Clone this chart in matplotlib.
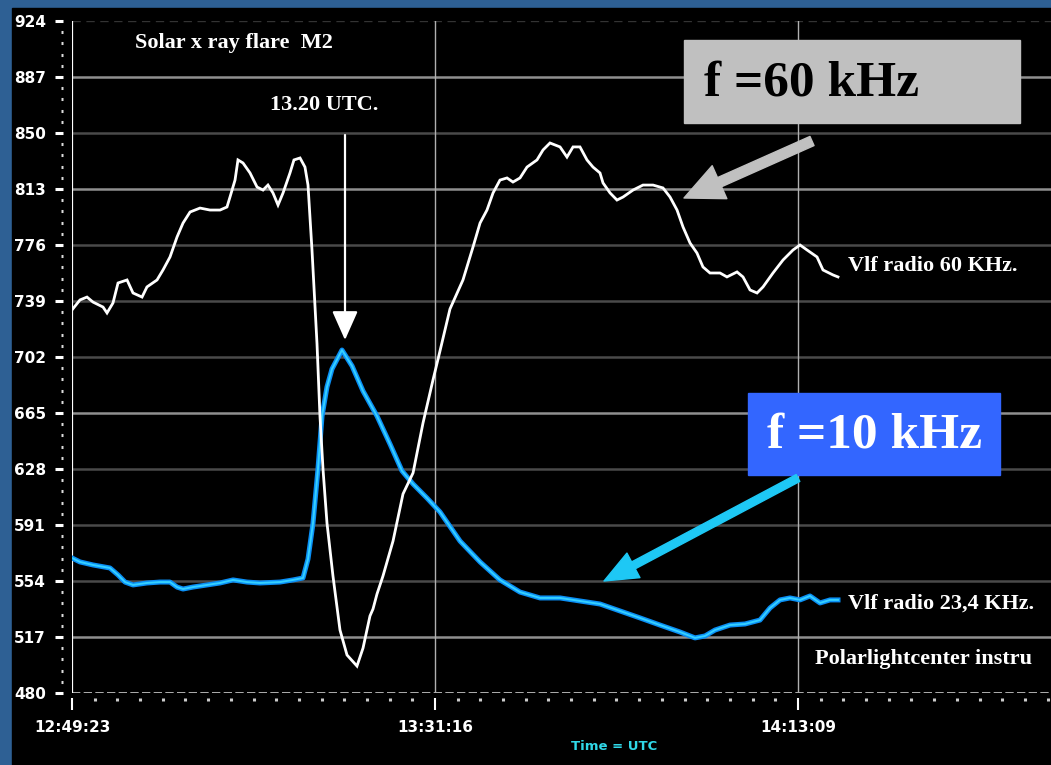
import matplotlib
matplotlib.use("Agg")
import matplotlib.pyplot as plt
import matplotlib.patches as mpatches
from matplotlib.ticker import FixedLocator
import numpy as np

# ---------------- data (minutes after 12:49:23, receiver level) ----------------
t60 = [0.0, 0.92, 1.73, 2.42, 3.58, 4.04, 4.73, 5.31, 6.35, 7.04, 8.08, 8.65, 9.81, 10.50,
       11.31, 12.12, 12.81, 13.62, 14.77, 15.92, 17.08, 17.88, 18.23, 18.81, 19.15, 19.73,
       20.54, 21.35, 22.04, 22.61, 23.19, 23.77, 24.35, 25.15, 25.61, 26.31, 26.88, 27.23,
       27.69, 28.27, 28.61, 28.96, 29.42, 30.11, 30.92, 31.73, 32.88, 33.58, 34.38, 34.73,
       35.19, 35.88, 37.04, 38.19, 39.35, 40.50, 41.65, 42.46, 43.61, 45.11, 46.27, 47.08,
       47.88, 48.58, 49.38, 50.19, 50.88, 51.69, 52.50, 53.65, 54.35, 55.15, 56.31, 57.11,
       57.81, 58.61, 59.42, 60.11, 60.92, 61.27, 62.08, 62.88, 63.58, 64.73, 65.88, 67.04,
       68.19, 69.00, 69.81, 70.50, 71.31, 72.11, 72.80, 73.61, 74.77, 75.57, 76.73, 77.42,
       78.23, 79.04, 79.73, 80.88, 82.04, 83.19, 84.00, 84.81, 85.96, 86.65, 87.81, 88.38]
v60 = [733.1, 739.7, 741.6, 738.3, 735.0, 731.1, 737.7, 750.9, 752.9, 744.3, 741.6, 748.3,
       752.9, 759.5, 768.1, 781.3, 790.5, 797.8, 800.4, 799.1, 799.1, 801.1, 807.7, 818.9,
       832.2, 830.2, 823.6, 814.3, 812.3, 815.6, 810.4, 802.4, 810.4, 823.6, 832.2, 833.5,
       827.5, 815.6, 772.7, 710.6, 663.0, 628.0, 592.3, 557.3, 521.6, 505.1, 497.8, 509.7,
       530.9, 535.5, 545.4, 557.3, 580.4, 611.5, 625.4, 658.4, 686.8, 706.0, 733.7, 752.9,
       774.7, 790.5, 799.1, 810.4, 818.9, 820.3, 817.6, 820.3, 827.5, 832.2, 838.8, 843.4,
       840.8, 834.1, 840.8, 840.8, 832.2, 827.5, 823.6, 817.0, 810.4, 805.7, 807.7, 812.3,
       815.6, 815.6, 813.7, 807.7, 799.1, 787.9, 777.3, 770.7, 761.5, 757.5, 757.5, 754.9,
       758.2, 754.9, 746.3, 744.3, 748.3, 757.5, 766.1, 772.7, 776.0, 772.7, 768.1, 759.5,
       756.2, 754.9]

t23 = [0.0, 0.92, 2.42, 4.38, 5.31, 6.12, 7.04, 8.65, 10.15, 11.31, 12.12, 12.81, 13.96,
       15.58, 17.08, 18.58, 20.19, 21.69, 24.00, 25.50, 26.65, 27.23, 27.81, 28.38, 28.85,
       29.42, 30.00, 31.15, 32.31, 33.58, 35.19, 36.69, 38.08, 39.35, 40.96, 42.46, 44.77,
       47.08, 49.38, 51.69, 54.00, 56.31, 58.61, 60.92, 63.23, 65.54, 67.84, 70.15, 71.88,
       73.04, 74.19, 75.92, 77.65, 79.38, 80.54, 81.69, 82.84, 84.00, 85.15, 86.31, 87.46,
       88.38]
v23 = [569.2, 566.6, 564.6, 562.6, 558.0, 553.3, 551.4, 552.7, 553.3, 553.3, 550.0, 548.7,
       550.0, 551.4, 552.7, 554.7, 553.3, 552.7, 553.3, 554.7, 556.0, 568.5, 592.3, 628.0,
       663.0, 682.2, 694.1, 706.6, 696.1, 679.5, 663.0, 644.5, 626.7, 618.1, 608.8, 599.6,
       580.4, 566.6, 554.7, 546.7, 542.8, 542.8, 540.8, 538.8, 534.2, 529.6, 524.9, 520.3,
       516.4, 517.7, 521.6, 524.9, 525.6, 528.2, 536.2, 541.5, 542.8, 541.5, 544.1, 539.5,
       541.5, 541.5]

y_ticks = [480, 517, 554, 591, 628, 665, 702, 739, 776, 813, 850, 887, 924]
x_ticks = [0.0, 41.883, 83.767]
x_labels = ["12:49:23", "13:31:16", "14:13:09"]

W, H = 1051, 765
def fx(px): return px / W
def fy(py): return 1 - py / H

fig = plt.figure(figsize=(W / 100, H / 100), dpi=100)
fig.patch.set_facecolor("#2e6094")
fig.patches.append(mpatches.Rectangle((fx(12), 0), 1 - fx(12), 1 - 8 / H,
                                      transform=fig.transFigure, color="black", zorder=-5))

ax = fig.add_axes([fx(72), 72 / H, (W - 72) / W, 672 / H])
ax.set_zorder(1)
ax.set_facecolor("none")
ax.set_xlim(0, (W - 72) * 41.883 / 363)
ax.set_ylim(480, 924)

# grid
bright = {887, 813, 665, 517}
for v in y_ticks[1:-1]:
    ax.axhline(v, color="#8f8f8f" if v in bright else "#4a4a4a", lw=1.8, zorder=1)
ax.axhline(924, color="#333333", lw=1.0, ls=(0, (6, 4)), zorder=1)
ax.axhline(480, color="#cccccc", lw=1.2, ls=(0, (5, 2)), zorder=1)
for xv in x_ticks[1:]:
    ax.axvline(xv, color="#b0b0b0", lw=1.0, zorder=1)
ax.axvline(0, color="white", lw=1.6, zorder=2)

for s in ax.spines.values():
    s.set_visible(False)
ax.spines["left"].set_position(("outward", 6.5))
ax.spines["bottom"].set_position(("outward", 3.6))

tickfont = dict(family=["Liberation Sans Narrow", "DejaVu Sans"], fontweight="bold")
ax.set_yticks(y_ticks)
ax.set_yticklabels([str(v) for v in y_ticks], color="white", fontsize=11, **tickfont)
ax.yaxis.set_minor_locator(FixedLocator(np.arange(480, 925, 7.4)))
ax.tick_params(axis="y", which="major", direction="out", length=5.8, width=2.2,
               color="white", pad=6.5)
ax.tick_params(axis="y", which="minor", direction="out", length=1.8, width=2.2,
               color="#dddddd")
ax.set_xticks(x_ticks)
ax.set_xticklabels(x_labels, color="white", fontsize=11, **tickfont)
ax.xaxis.set_minor_locator(FixedLocator(np.arange(0, 113, 41.883 / 16)))
ax.tick_params(axis="x", which="major", direction="out", length=8.5, width=1.5,
               color="white", pad=7)
ax.tick_params(axis="x", which="minor", direction="out", length=2.5, width=2.2,
               color="#cccccc")

# curves
ax.plot(t60, v60, color="white", lw=2.0, zorder=4, solid_joinstyle="miter")
ax.plot(t23, v23, color="#0a8ff5", lw=3.6, zorder=3)
ax.plot(t23, v23, color="#35d0ff", lw=1.4, zorder=3)

# annotation texts
serif = ["Liberation Serif", "DejaVu Serif"]
lbl = dict(color="white", fontsize=16, fontweight="bold", family=serif, va="center", ha="left")
fig.text(fx(135), fy(43), "Solar x ray flare  M2", **lbl)
fig.text(fx(270), fy(105), "13.20 UTC.", **lbl)
fig.text(fx(848), fy(266), "Vlf radio 60 KHz.", **lbl)
fig.text(fx(848), fy(604), "Vlf radio 23,4 KHz.", **lbl)
fig.text(fx(815), fy(659), "Polarlightcenter instru", **lbl)
fig.text(fx(614), fy(747), "Time = UTC", color="#30d8e8", fontsize=9.5, fontweight="bold",
         family=["Liberation Sans Narrow", "DejaVu Sans"], va="center", ha="center")

# 13.20 UTC arrow
fig.patches.append(mpatches.FancyArrowPatch((fx(345), fy(135)), (fx(345), fy(340)),
                   transform=fig.transFigure, arrowstyle="-|>,head_length=0.9,head_width=0.4",
                   mutation_scale=20, color="white", lw=1.6, shrinkA=0, shrinkB=0, zorder=5))

# grey label box + arrow
fig.patches.append(mpatches.Rectangle((fx(684), fy(123)), (1020 - 684) / W, (123 - 40) / H,
                   transform=fig.transFigure, color="#c0c0c0", zorder=5))
fig.text(fx(704), fy(83), "f =60 kHz", color="black", fontsize=37, fontweight="bold",
         family=serif, va="center", ha="left", zorder=6)
fig.patches.append(mpatches.FancyArrowPatch((fx(812), fy(141)), (fx(684), fy(198)),
                   transform=fig.transFigure,
                   arrowstyle="simple,head_length=1.4,head_width=1.3,tail_width=0.36",
                   mutation_scale=20, color="#c0c0c0", shrinkA=0, shrinkB=0, zorder=5))

# blue label box + arrow
fig.patches.append(mpatches.Rectangle((fx(748), fy(475)), (1000 - 748) / W, (475 - 393) / H,
                   transform=fig.transFigure, color="#3366ff", zorder=5))
fig.text(fx(767), fy(436), "f =10 kHz", color="white", fontsize=37, fontweight="bold",
         family=serif, va="center", ha="left", zorder=6)
fig.patches.append(mpatches.FancyArrowPatch((fx(798), fy(478)), (fx(604), fy(581)),
                   transform=fig.transFigure,
                   arrowstyle="simple,head_length=1.2,head_width=1.0,tail_width=0.28",
                   mutation_scale=20, color="#1ec8f5", shrinkA=0, shrinkB=0, zorder=5))

fig.savefig("out.png", dpi=100, facecolor=fig.get_facecolor())
